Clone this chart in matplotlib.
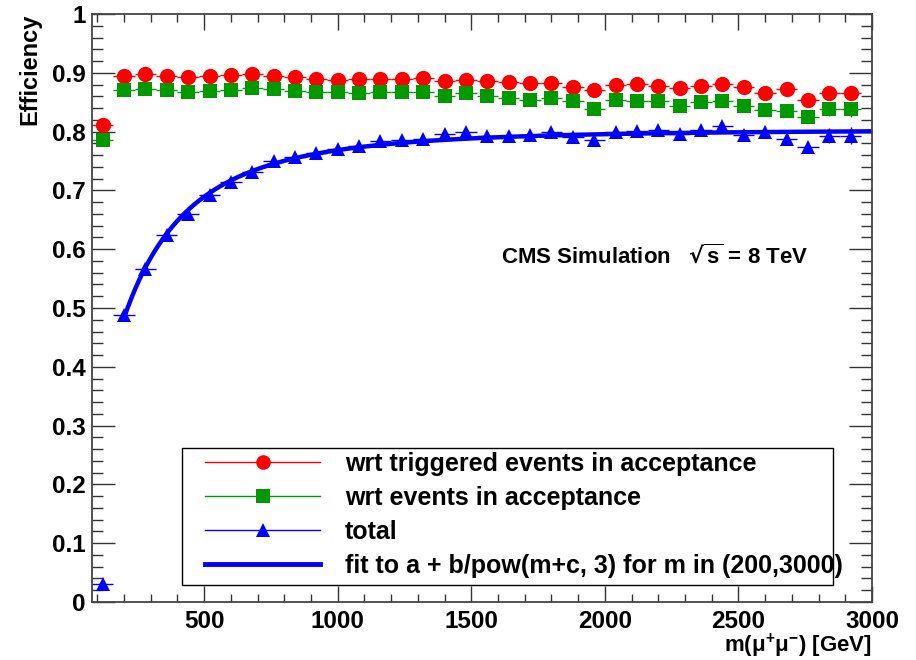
import matplotlib
matplotlib.use('Agg')
import matplotlib.pyplot as plt
import numpy as np
from matplotlib.ticker import MultipleLocator
from matplotlib.lines import Line2D
from matplotlib.patches import Rectangle

# bin centres (GeV), bins are 80 GeV wide
mass = [120, 200, 280, 360, 440, 520, 600, 680, 760, 840, 920, 1000,
        1080, 1160, 1240, 1320, 1400, 1480, 1560, 1640, 1720, 1800, 1880, 1960,
        2040, 2120, 2200, 2280, 2360, 2440, 2520, 2600, 2680, 2760, 2840, 2920]
half_width = 40

eff_trig = [0.811, 0.895, 0.898, 0.895, 0.893, 0.894, 0.897, 0.898, 0.895, 0.893, 0.890, 0.888,
            0.889, 0.889, 0.889, 0.891, 0.886, 0.887, 0.886, 0.884, 0.883, 0.883, 0.876, 0.870,
            0.880, 0.881, 0.878, 0.875, 0.878, 0.881, 0.876, 0.866, 0.873, 0.854, 0.866, 0.866]
eff_acc = [0.786, 0.870, 0.872, 0.871, 0.867, 0.869, 0.871, 0.875, 0.872, 0.869, 0.867, 0.867,
           0.865, 0.867, 0.867, 0.868, 0.860, 0.865, 0.861, 0.857, 0.854, 0.857, 0.852, 0.838,
           0.853, 0.852, 0.852, 0.844, 0.850, 0.852, 0.844, 0.837, 0.835, 0.824, 0.838, 0.838]
eff_total = [0.030, 0.488, 0.567, 0.624, 0.660, 0.692, 0.714, 0.731, 0.750, 0.756, 0.763, 0.770,
             0.775, 0.784, 0.786, 0.788, 0.796, 0.800, 0.793, 0.793, 0.795, 0.799, 0.790, 0.786,
             0.799, 0.801, 0.802, 0.796, 0.802, 0.809, 0.795, 0.800, 0.787, 0.773, 0.793, 0.793]

err_trig = [0.004, 0.002, 0.002, 0.002, 0.002, 0.002, 0.002, 0.002, 0.003, 0.003, 0.003, 0.003,
            0.003, 0.003, 0.003, 0.004, 0.004, 0.004, 0.004, 0.004, 0.005, 0.005, 0.005, 0.005,
            0.006, 0.006, 0.006, 0.006, 0.007, 0.007, 0.007, 0.008, 0.008, 0.009, 0.011, 0.012]
err_acc = [0.004, 0.002, 0.002, 0.002, 0.002, 0.002, 0.002, 0.003, 0.003, 0.003, 0.003, 0.003,
           0.003, 0.003, 0.004, 0.004, 0.004, 0.004, 0.004, 0.005, 0.005, 0.005, 0.005, 0.006,
           0.006, 0.006, 0.006, 0.007, 0.007, 0.007, 0.008, 0.008, 0.009, 0.010, 0.012, 0.013]
err_total = [0.002, 0.003, 0.003, 0.003, 0.003, 0.003, 0.003, 0.003, 0.003, 0.003, 0.003, 0.003,
             0.004, 0.004, 0.004, 0.004, 0.004, 0.004, 0.005, 0.005, 0.005, 0.005, 0.006, 0.006,
             0.006, 0.006, 0.007, 0.007, 0.007, 0.008, 0.008, 0.009, 0.009, 0.010, 0.013, 0.014]

labels = ['wrt triggered events in acceptance', 'wrt events in acceptance', 'total',
          'fit to a + b/pow(m+c, 3) for m in (200,3000)']

RED = '#ff0000'
GREEN = '#009900'
BLUE = '#0000ff'


def fit_total(m, e):
    # least squares fit of a + b/(m+c)^3, scan c, solve a, b linearly
    best = None
    for c in np.linspace(0, 2000, 2001):
        A = np.column_stack([np.ones_like(m), 1.0 / (m + c) ** 3])
        coef, res, _, _ = np.linalg.lstsq(A, e, rcond=None)
        r = np.sum((A @ coef - e) ** 2)
        if best is None or r < best[0]:
            best = (r, coef[0], coef[1], c)
    return best[1:]


def main():
    plt.rcParams['font.family'] = 'Liberation Sans'
    plt.rcParams['font.weight'] = 'bold'

    fig = plt.figure(figsize=(9.16, 6.60), dpi=100)
    ax = fig.add_axes([92 / 916, 1 - 602 / 660, 780 / 916, 588 / 660])

    m = np.array(mass, dtype=float)
    ekw = dict(linestyle='none', capsize=2.5, elinewidth=1.0, capthick=1.0, markeredgewidth=0)
    ax.errorbar(m, eff_trig, xerr=half_width, yerr=err_trig, fmt='o', color=RED, ms=11, **ekw)
    ax.errorbar(m, eff_acc, xerr=half_width, yerr=err_acc, fmt='s', color=GREEN, ms=10, **ekw)
    ax.errorbar(m, eff_total, xerr=half_width, yerr=err_total, fmt='^', color=BLUE, ms=10, **ekw)

    sel = (m > 200 - half_width)
    a, b, c = fit_total(m[sel], np.array(eff_total)[sel])
    mm = np.linspace(200, 3000, 400)
    ax.plot(mm, a + b / (mm + c) ** 3, color=BLUE, lw=3.2, solid_capstyle='butt')

    ax.set_xlim(80, 3000)
    ax.set_ylim(0, 1)
    ax.xaxis.set_major_locator(MultipleLocator(500))
    ax.xaxis.set_minor_locator(MultipleLocator(100))
    ax.yaxis.set_minor_locator(MultipleLocator(0.02))
    ax.set_yticks(np.arange(0, 1.01, 0.1))
    ax.set_yticklabels(['0', '0.1', '0.2', '0.3', '0.4', '0.5', '0.6', '0.7', '0.8', '0.9', '1'])

    for s in ax.spines.values():
        s.set_color('#444444')
        s.set_linewidth(1.3)
    ax.tick_params(which='both', direction='in', top=True, right=True, colors='#333333',
                   labelcolor='black', labelsize=17.5, width=1.0)
    ax.tick_params(axis='x', which='major', length=11.5, pad=5.5)
    ax.tick_params(axis='x', which='minor', length=5.8)
    ax.tick_params(axis='y', which='major', length=16.5, pad=4.5)
    ax.tick_params(axis='y', which='minor', length=8)

    ax.set_ylabel('Efficiency', fontsize=17, fontweight='bold', loc='top')
    ax.yaxis.set_label_coords(-0.065, 1.0)
    ax.set_xlabel(r'm($\mathregular{\mu^{+}\mu^{-}}$) [GeV]', fontsize=16,
                  fontweight='bold', loc='right')
    ax.xaxis.set_label_coords(1.0, -0.05)

    ax.text(1612, 0.588, r'CMS Simulation   $\mathregular{\sqrt{s}}$ = 8 TeV', fontsize=16,
            fontweight='bold', va='center', ha='left')

    # legend frame drawn separately, entries placed inside it
    ax.add_patch(Rectangle((90 / 780, 17 / 588), 651 / 780, 137 / 588, transform=ax.transAxes,
                           facecolor='white', edgecolor='black', lw=1.0, zorder=4))
    handles = [
        Line2D([], [], color=RED, marker='o', ms=10.5, lw=1.0, markeredgewidth=0),
        Line2D([], [], color=GREEN, marker='s', ms=9.5, lw=1.0, markeredgewidth=0),
        Line2D([], [], color=BLUE, marker='^', ms=10, lw=1.0, markeredgewidth=0),
        Line2D([], [], color=BLUE, lw=3.5),
    ]
    leg = ax.legend(handles, labels, loc='upper left',
                    bbox_to_anchor=(113 / 780, 150 / 588), borderaxespad=0, borderpad=0,
                    fontsize=18, handlelength=4.6, handletextpad=1.0, labelspacing=0.4,
                    frameon=False)
    leg.set_zorder(5)

    fig.savefig('out.png', dpi=100)


if __name__ == '__main__':
    main()
